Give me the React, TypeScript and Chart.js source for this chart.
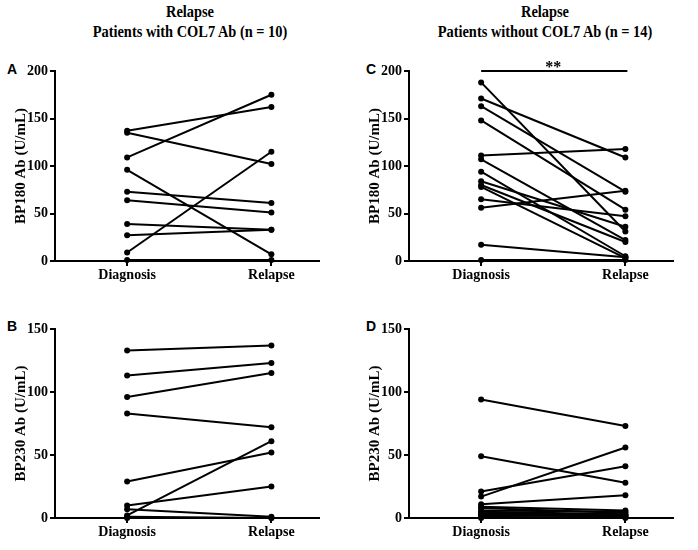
import React, { useEffect, useRef } from "react";
import { Chart, registerables } from "chart.js";

Chart.register(...registerables);

const categories = ["Diagnosis", "Relapse"];

// Panel A: BP180, patients with COL7 Ab
const aDiagnosis = [137, 135, 109, 96, 73, 64, 39, 27, 9, 1];
const aRelapse = [162, 102, 175, 7, 61, 51, 33, 33, 115, 1];
// Panel B: BP230, patients with COL7 Ab
const bDiagnosis = [133, 113, 96, 83, 29, 10, 7, 2, 1, 0];
const bRelapse = [137, 123, 115, 72, 52, 25, 1, 61, 0, 0];
// Panel C: BP180, patients without COL7 Ab
const cDiagnosis = [188, 171, 163, 148, 111, 107, 94, 84, 80, 78, 65, 56, 17, 1];
const cRelapse = [31, 109, 73, 54, 118, 22, 5, 36, 20, 3, 47, 74, 4, 1];
// Panel D: BP230, patients without COL7 Ab
const dDiagnosis = [94, 49, 21, 17, 11, 9, 8, 6, 5, 4, 3, 2, 1, 0];
const dRelapse = [73, 28, 41, 56, 18, 6, 4, 5, 3, 2, 1, 2, 0, 1];

const bp180Ticks = [0, 50, 100, 150, 200];
const bp230Ticks = [0, 50, 100, 150];

const sigLabel = "**";
const sigLevel = 200;

const SERIF = "'Liberation Serif', 'Times New Roman', serif";
const SANS = "'Liberation Sans', Arial, sans-serif";

type PanelProps = {
  diag: number[];
  rel: number[];
  ticks: number[];
  yTitle: string;
  left: number;
  top: number;
  height: number;
  xAxisH: number;
  sig?: boolean;
};

function Panel(p: PanelProps) {
  const ref = useRef<HTMLCanvasElement | null>(null);
  useEffect(() => {
    if (!ref.current) return;
    const tickFont = { family: SERIF, size: 14, weight: "bold" as const };
    const gridCfg = {
      display: true,
      drawOnChartArea: false,
      drawTicks: true,
      tickLength: 5,
      color: "#000",
      lineWidth: 2,
    };
    const datasets = p.diag.map((d, i) => ({
      data: [
        { x: 0, y: d },
        { x: 1, y: p.rel[i] },
      ],
      borderColor: "#000",
      backgroundColor: "#000",
      borderWidth: 2,
      pointRadius: 3,
      pointBackgroundColor: "#000",
      pointBorderColor: "#000",
      pointBorderWidth: 0,
      clip: false as const,
    }));
    const sigPlugin = {
      id: "sig",
      afterDatasetsDraw(chart: any) {
        if (!p.sig) return;
        const { ctx, scales } = chart;
        const x0 = scales.x.getPixelForValue(0);
        const x1 = scales.x.getPixelForValue(1);
        const y = scales.y.getPixelForValue(sigLevel);
        ctx.save();
        ctx.strokeStyle = "#000";
        ctx.lineWidth = 2;
        ctx.beginPath();
        ctx.moveTo(x0, y);
        ctx.lineTo(x1 + 2, y);
        ctx.stroke();
        ctx.fillStyle = "#000";
        ctx.font = `bold 16px ${SERIF}`;
        ctx.textAlign = "center";
        ctx.textBaseline = "alphabetic";
        ctx.fillText(sigLabel, (x0 + x1) / 2, y + 1);
        ctx.restore();
      },
    };
    const chart = new Chart(ref.current, {
      type: "line",
      data: { datasets },
      plugins: [sigPlugin],
      options: {
        animation: false,
        responsive: false,
        layout: { padding: { top: 11, right: 8, left: 0, bottom: 0 } },
        plugins: { legend: { display: false }, tooltip: { enabled: false } },
        scales: {
          x: {
            type: "linear",
            min: -0.5,
            max: 1.33,
            afterBuildTicks: (s: any) => {
              s.ticks = categories.map((_, i) => ({ value: i }));
            },
            afterFit: (s: any) => {
              s.height = p.xAxisH;
            },
            ticks: {
              callback: (v: any) => categories[v as number] ?? "",
              font: tickFont,
              color: "#000",
              padding: 1,
              autoSkip: false,
              maxRotation: 0,
            },
            grid: gridCfg,
            border: { display: true, color: "#000", width: 2 },
          },
          y: {
            type: "linear",
            min: 0,
            max: p.ticks[p.ticks.length - 1],
            afterBuildTicks: (s: any) => {
              s.ticks = p.ticks.map((v) => ({ value: v }));
            },
            afterFit: (s: any) => {
              s.width = 45;
            },
            ticks: { font: tickFont, color: "#000", padding: 2 },
            grid: gridCfg,
            border: { display: true, color: "#000", width: 2 },
            title: {
              display: true,
              text: p.yTitle,
              color: "#000",
              font: { family: SERIF, size: 15, weight: "bold" },
              padding: { top: 2, bottom: 0 },
            },
          },
        },
      } as any,
    });
    return () => chart.destroy();
  }, []);
  return (
    <canvas
      ref={ref}
      width={317}
      height={p.height}
      style={{ position: "absolute", left: p.left, top: p.top, width: 317, height: p.height }}
    />
  );
}

const headStyle: React.CSSProperties = {
  position: "absolute",
  width: 340,
  textAlign: "center",
  fontFamily: SERIF,
  fontWeight: "bold",
  fontSize: 16,
  lineHeight: "20px",
  color: "#000",
  transform: "scaleX(0.9)",
};

const letterStyle: React.CSSProperties = {
  position: "absolute",
  fontFamily: SANS,
  fontWeight: "bold",
  fontSize: 14,
  lineHeight: "16px",
  color: "#000",
};

export default function App() {
  return (
    <div
      style={{
        position: "absolute",
        left: 0,
        top: 0,
        width: 698,
        height: 550,
        background: "#fff",
        overflow: "hidden",
      }}
    >
      <div style={{ ...headStyle, left: 20, top: 2 }}>
        Relapse
        <br />
        Patients with COL7 Ab (n = 10)
      </div>
      <div style={{ ...headStyle, left: 375, top: 2 }}>
        Relapse
        <br />
        Patients without COL7 Ab (n = 14)
      </div>
      <div style={{ ...letterStyle, left: 7, top: 61 }}>A</div>
      <div style={{ ...letterStyle, left: 7, top: 318 }}>B</div>
      <div style={{ ...letterStyle, left: 366, top: 61 }}>C</div>
      <div style={{ ...letterStyle, left: 366, top: 318 }}>D</div>
      <Panel diag={aDiagnosis} rel={aRelapse} ticks={bp180Ticks} yTitle="BP180 Ab (U/mL)" left={10} top={60} height={230} xAxisH={29} />
      <Panel diag={bDiagnosis} rel={bRelapse} ticks={bp230Ticks} yTitle="BP230 Ab (U/mL)" left={10} top={318} height={227} xAxisH={27} />
      <Panel diag={cDiagnosis} rel={cRelapse} ticks={bp180Ticks} yTitle="BP180 Ab (U/mL)" left={364} top={60} height={230} xAxisH={29} sig />
      <Panel diag={dDiagnosis} rel={dRelapse} ticks={bp230Ticks} yTitle="BP230 Ab (U/mL)" left={364} top={318} height={227} xAxisH={27} />
    </div>
  );
}
